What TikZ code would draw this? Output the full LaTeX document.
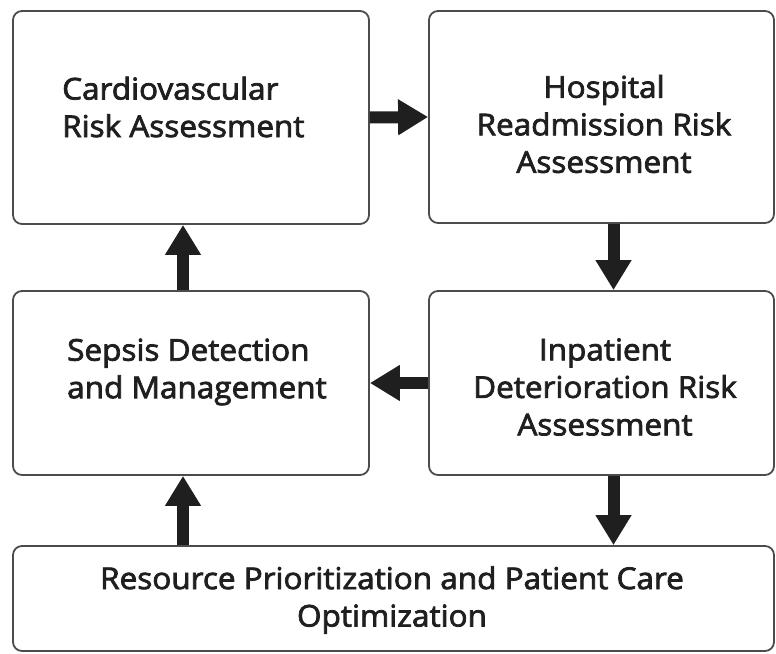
\documentclass[tikz,border=0pt]{standalone}
\usepackage{fontspec}
\setmainfont{Open Sans}[FakeBold=2.5, FakeStretch=1.05]
\usetikzlibrary{arrows.meta}
\begin{document}
\begin{tikzpicture}[x=1pt,y=-1pt,
  box/.style={draw=black!70, line width=1.8pt, rounded corners=9pt, fill=white, inner sep=0pt},
  lbl/.style={font=\fontsize{30}{37.5}\selectfont, text=black!88, inner sep=0pt},
  fat/.style={line width=12pt, draw=black!88, -{Triangle[width=34pt,length=30pt]}}]
\useasboundingbox (0,0) rectangle (776,653);
\node[box, minimum width=356pt, minimum height=213pt] (cv) at (191,117.5) {};
\node[box, minimum width=345pt, minimum height=212pt] (hr) at (601.5,117) {};
\node[box, minimum width=356pt, minimum height=184pt] (sd) at (191,383) {};
\node[box, minimum width=345pt, minimum height=184pt] (id) at (601.5,383) {};
\node[box, minimum width=761pt, minimum height=105pt] (ro) at (393.5,598.5) {};
\node[lbl, anchor=west, align=left] (t1) at (62,107) {Cardiovascular\\Risk Assessment};
\node[lbl, align=center] (t2) at (604,124) {Hospital\\Readmission Risk\\Assessment};
\node[lbl, anchor=west, align=left] (t3) at (67,372) {Sepsis Detection\\and Management};
\node[lbl, align=center] (t4) at (605,387) {Inpatient\\Deterioration Risk\\Assessment};
\node[lbl, align=center] (t5) at (392,600) {Resource Prioritization and Patient Care\\Optimization};
\draw[fat] (cv.east) -- (hr.west);
\draw[fat] ([xshift=12pt]hr.south) -- ([xshift=12pt]id.north);
\draw[fat] (id.west) -- (sd.east);
\draw[fat] ([xshift=-8pt]sd.north) -- ([xshift=-8pt]cv.south);
\draw[fat] ([xshift=12pt]id.south) -- ([xshift=12pt]id.south |- ro.north);
\draw[fat] ([xshift=-8pt]sd.south |- ro.north) -- ([xshift=-8pt]sd.south);
\end{tikzpicture}
\end{document}
